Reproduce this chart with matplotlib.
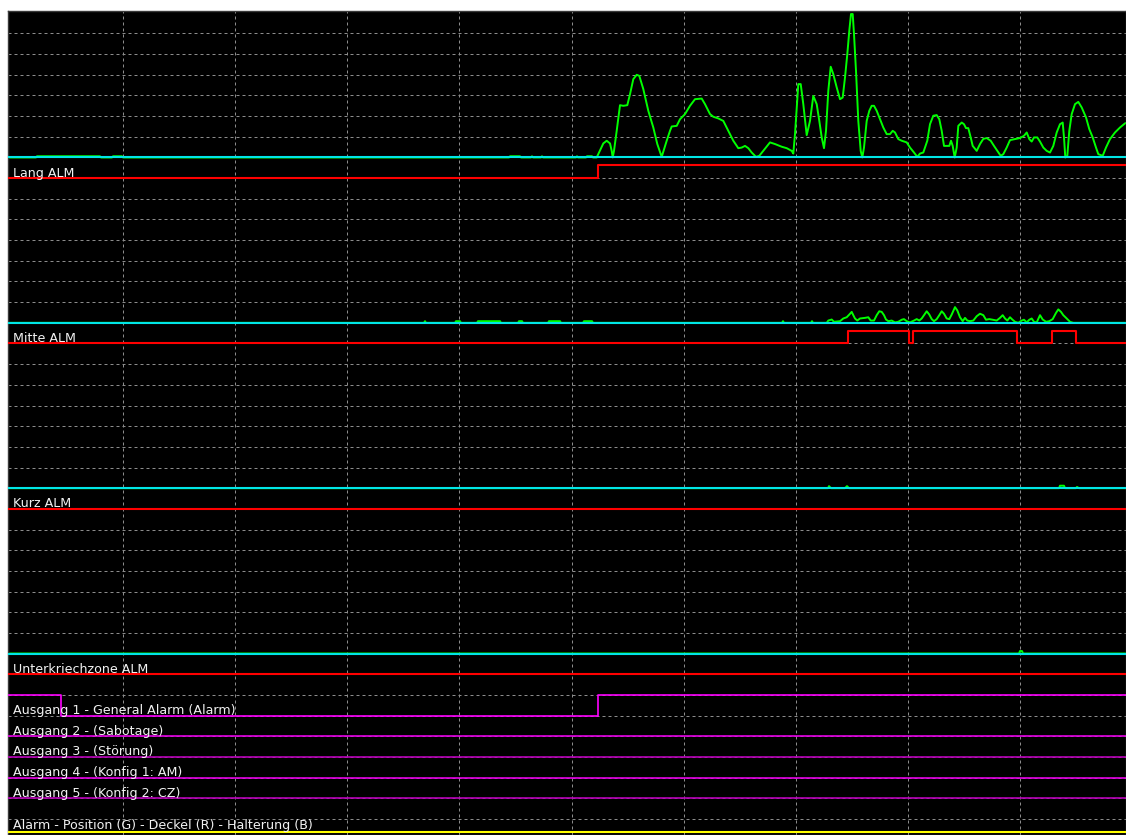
import numpy as np
import matplotlib
matplotlib.use("Agg")
import matplotlib.pyplot as plt

# ---------------- data (time axis in samples) ----------------
# Analog channel 1 : Lang
lang_t = [8, 36, 37, 100, 101, 112, 113, 122, 123, 509, 510, 520, 521, 531, 532, 533, 541, 542, 543,
          576, 577, 578, 586, 587, 592, 593, 596.7, 603.3, 606.7, 610, 611.7, 612.7, 614, 616.7, 620,
          623.3, 627.3, 630, 633.3, 636.7, 639.3, 643.3, 648.3, 653.3, 657.3, 661.7, 666.7, 670, 671.7,
          676.7, 680, 685, 690, 695, 701.7, 705, 710, 713.3, 718.3, 723.3, 728.3, 733.3, 738.3, 741.7,
          745, 748.3, 751.7, 756, 759.3, 763.3, 770, 775, 781.7, 786.7, 791.7, 793.3, 795, 798.3, 800.7,
          803.3, 806.7, 810, 813.3, 816.7, 819.3, 821.7, 824, 826, 828.3, 830.7, 833.3, 836.7, 840,
          842.7, 845, 847.3, 849.3, 851, 852.7, 854, 856, 858.3, 860.7, 862.3, 864, 866.7, 869.3, 871.7,
          874, 876.7, 880, 883.3, 886.7, 890, 892.7, 895, 898.3, 901.7, 906.7, 910, 914, 917.3, 920,
          923.3, 927.3, 930, 933.3, 936.7, 939.3, 941.7, 944, 946.7, 949.3, 951, 952.7, 954.7, 956.7,
          958.3, 961.7, 964, 966, 968.3, 970.7, 972.7, 976.7, 980, 983.3, 986.7, 990.7, 994, 997.3,
          1000.7, 1003.3, 1006.7, 1010, 1015, 1020, 1024, 1026.7, 1029.3, 1031.7, 1034, 1037.3, 1040,
          1043.3, 1046.7, 1050, 1053.3, 1056.7, 1060, 1062.7, 1064, 1065.3, 1067.3, 1069.3, 1071.7, 1075,
          1078.3, 1081.7, 1086, 1089.3, 1092.7, 1096, 1098.3, 1102.7, 1106, 1110, 1115, 1120, 1125, 1130]
lang_v = [0, 0, 0.06, 0.06, 0, 0, 0.06, 0.06, 0, 0, 0.06, 0.06, 0, 0, 0.06, 0, 0, 0.06, 0,
          0, 0.06, 0, 0, 0.06, 0.06, 0, 0, 0.68, 0.81, 0.68, 0.32, 0, 0.32, 1.29, 2.53,
          2.5, 2.53, 3.06, 3.79, 4.0, 3.95, 3.31, 2.26, 1.45, 0.65, 0.03, 0.81, 1.29, 1.5,
          1.53, 1.85, 2.1, 2.5, 2.82, 2.85, 2.58, 2.1, 1.97, 1.89, 1.77, 1.29, 0.81, 0.45, 0.48,
          0.56, 0.45, 0.24, 0.03, 0.08, 0.32, 0.73, 0.65, 0.52, 0.45, 0.32, 0.19, 1.13, 3.55, 3.55,
          2.58, 1.08, 1.77, 2.98, 2.58, 1.77, 0.97, 0.45, 1.29, 3.23, 4.39, 4.03, 3.39, 2.82,
          2.9, 3.87, 5.0, 6.13, 6.94, 6.94, 5.97, 4.19, 1.77, 0.32, 0, 0.48, 1.77, 2.26, 2.5,
          2.5, 2.26, 1.85, 1.45, 1.13, 1.13, 1.29, 1.21, 0.89, 0.81, 0.73, 0.48, 0.24, 0.03, 0.19,
          0.24, 0.81, 1.61, 2.02, 2.05, 1.85, 1.29, 0.56, 0.56, 0.56, 0.81, 0.56, 0, 0.48,
          1.53, 1.69, 1.61, 1.42, 1.42, 0.97, 0.56, 0.32, 0.65, 0.9, 0.94, 0.81, 0.56, 0.32,
          0.08, 0.16, 0.48, 0.84, 0.89, 0.94, 1.05, 1.21, 0.89, 0.77, 0.97, 0.97, 0.77,
          0.48, 0.32, 0.24, 0.56, 1.21, 1.61, 1.69, 0.97, 0, 0.08, 1.29, 2.1, 2.58,
          2.69, 2.42, 1.94, 1.37, 0.97, 0.48, 0.16, 0.08, 0.48, 0.89, 1.21, 1.45, 1.65, 1.75]

# Analog channel 2 : Mitte
mitte_t = [8, 424, 425, 426, 455, 456, 460, 461, 477, 478, 500, 501, 518, 519, 522, 523, 548, 549,
           560, 561, 583, 584, 592, 593, 782, 783, 784, 811, 812, 813, 826.7, 828.3, 831.7, 834, 840,
           843.3, 846.7, 849.3, 851.7, 853.3, 855, 857.3, 860, 865, 868.3, 870.7, 874, 876.7, 879.3,
           881.7, 884, 886, 888.3, 891.7, 895, 898.3, 901.7, 904, 906.7, 910, 914, 916.7, 919.3, 921.7,
           924, 926.7, 929.3, 931.7, 934, 936.7, 939.3, 941.7, 944, 946.7, 949.3, 951.7, 955, 957.3,
           960, 962.7, 965, 967.3, 970, 973.3, 976.7, 980, 983.3, 986, 989.3, 992.7, 996.7, 1000,
           1002.7, 1005, 1007.3, 1010, 1012.3, 1015, 1018.3, 1021.7, 1024, 1026.7, 1029.3, 1031.7, 1034,
           1036.7, 1040, 1042.7, 1046, 1049.3, 1052.7, 1056, 1058.3, 1061, 1063.3, 1066.7, 1070, 1073.3,
           1130]
mitte_v = [0, 0, 0.08, 0, 0, 0.08, 0.08, 0, 0, 0.08, 0.08, 0, 0, 0.08, 0.08, 0, 0, 0.08,
           0.08, 0, 0, 0.08, 0.08, 0, 0, 0.08, 0, 0, 0.08, 0, 0, 0.11, 0.16, 0.05, 0.08,
           0.21, 0.27, 0.4, 0.53, 0.37, 0.21, 0.11, 0.21, 0.24, 0.27, 0.11, 0.11, 0.37, 0.56,
           0.53, 0.37, 0.16, 0.08, 0.11, 0.02, 0.05, 0.15, 0.18, 0.08, 0.02, 0.11, 0.18, 0.11, 0.21,
           0.37, 0.56, 0.4, 0.18, 0.08, 0.18, 0.37, 0.56, 0.44, 0.21, 0.18, 0.4, 0.76, 0.6,
           0.27, 0.08, 0.24, 0.11, 0.08, 0.11, 0.32, 0.44, 0.37, 0.15, 0.18, 0.15, 0.11, 0.24,
           0.37, 0.21, 0.11, 0.27, 0.16, 0.05, 0, 0.11, 0.15, 0.02, 0.15, 0.21, 0.05,
           0.02, 0.37, 0.16, 0.05, 0.08, 0.18, 0.48, 0.65, 0.53, 0.37, 0.21, 0.05, 0,
           0]

# Analog channel 3 : Kurz
kurz_t = [8, 828, 829, 831, 845, 847, 849, 1059, 1060, 1064, 1065, 1076, 1077, 1079, 1130]
kurz_v = [0, 0, 0.1, 0, 0, 0.1, 0, 0, 0.12, 0.12, 0, 0, 0.06, 0, 0]

# Analog channel 4 : Unterkriechzone
unter_t = [8, 1019, 1020, 1022, 1023, 1130]
unter_v = [0, 0, 0.12, 0.12, 0, 0]

# Alarm (digital) states
lang_alm_t = [8, 598, 1130]
lang_alm_s = [0, 1, 1]
mitte_alm_t = [8, 848, 909, 913, 1017, 1052, 1076, 1130]
mitte_alm_s = [0, 1, 0, 1, 0, 1, 0, 0]
kurz_alm_t = [8, 1130]
kurz_alm_s = [0, 0]
unter_alm_t = [8, 1130]
unter_alm_s = [0, 0]

# Outputs
ausgang1_t = [8, 61, 598, 1130]
ausgang1_s = [1, 0, 1, 1]
ausgang_flat_t = [8, 1130]
ausgang_flat_s = [0, 0]

channel_labels = ["Lang ALM", "Mitte ALM", "Kurz ALM", "Unterkriechzone ALM"]
output_labels = ["Ausgang 1 - General Alarm (Alarm)", "Ausgang 2 - (Sabotage)",
                 "Ausgang 3 - (Störung)", "Ausgang 4 - (Konfig 1: AM)",
                 "Ausgang 5 - (Konfig 2: CZ)"]
bottom_label = "Alarm - Position (G) - Deckel (R) - Halterung (B)"

# ---------------- layout / style ----------------
W, H = 1126, 835
fig = plt.figure(figsize=(W / 100, H / 100), dpi=100, facecolor="white")
ax = fig.add_axes([8 / W, 0, (W - 8) / W, (H - 11) / H])
ax.set_facecolor("black")
ax.set_xlim(8, 1126)
ax.set_ylim(39.78, -0.087)
ax.set_xticks([])
ax.set_yticks([])
for s in ax.spines.values():
    s.set_color("#3a3a3a")
    s.set_linewidth(1)

grid_kw = dict(color="#8c8c8c", lw=0.72, dashes=(3, 3), zorder=1)
for xv in np.arange(10.5 + 112.2, 1126, 112.2):
    ax.axvline(xv, **grid_kw)
for r in range(1, 40):
    ax.axhline(r, **grid_kw)

analog = [(lang_t, lang_v), (mitte_t, mitte_v), (kurz_t, kurz_v), (unter_t, unter_v)]
digital = [(lang_alm_t, lang_alm_s), (mitte_alm_t, mitte_alm_s),
           (kurz_alm_t, kurz_alm_s), (unter_alm_t, unter_alm_s)]
base_rows = [7, 15, 23, 31]
dig_high = 0.62
txt_kw = dict(color="#f2f2f2", fontsize=9.1, family="DejaVu Sans",
              va="baseline", ha="left", zorder=5)

for i, b in enumerate(base_rows):
    t, v = analog[i]
    ax.plot(t, b - np.asarray(v), color="#00ff00", lw=1.4, zorder=2)
    ax.axhline(b, color="#00e6e6", lw=1.5, zorder=3)
    dt, ds = digital[i]
    ax.plot(dt, (b + 1) - dig_high * np.asarray(ds), color="#ff0000", lw=1.5,
            drawstyle="steps-post", zorder=3)
    ax.text(13, b + 0.93, channel_labels[i], **txt_kw)

out_rows = [34, 35, 36, 37, 38]
out_colors = ["#ff00ff", "#e600e6", "#b800b8", "#e600e6", "#b800b8"]
outs = [(ausgang1_t, ausgang1_s)] + [(ausgang_flat_t, ausgang_flat_s)] * 4
for i, r in enumerate(out_rows):
    t, s = outs[i]
    ax.plot(t, r - np.asarray(s), color=out_colors[i], lw=1.2,
            drawstyle="steps-post", zorder=3)
    ax.text(13, r - 0.08, output_labels[i], **txt_kw)

ax.axhline(39.63, color="#ffff00", lw=1.5, zorder=3)
ax.text(13, 39.5, bottom_label, **txt_kw)

fig.savefig("out.png", dpi=100, facecolor="white")
